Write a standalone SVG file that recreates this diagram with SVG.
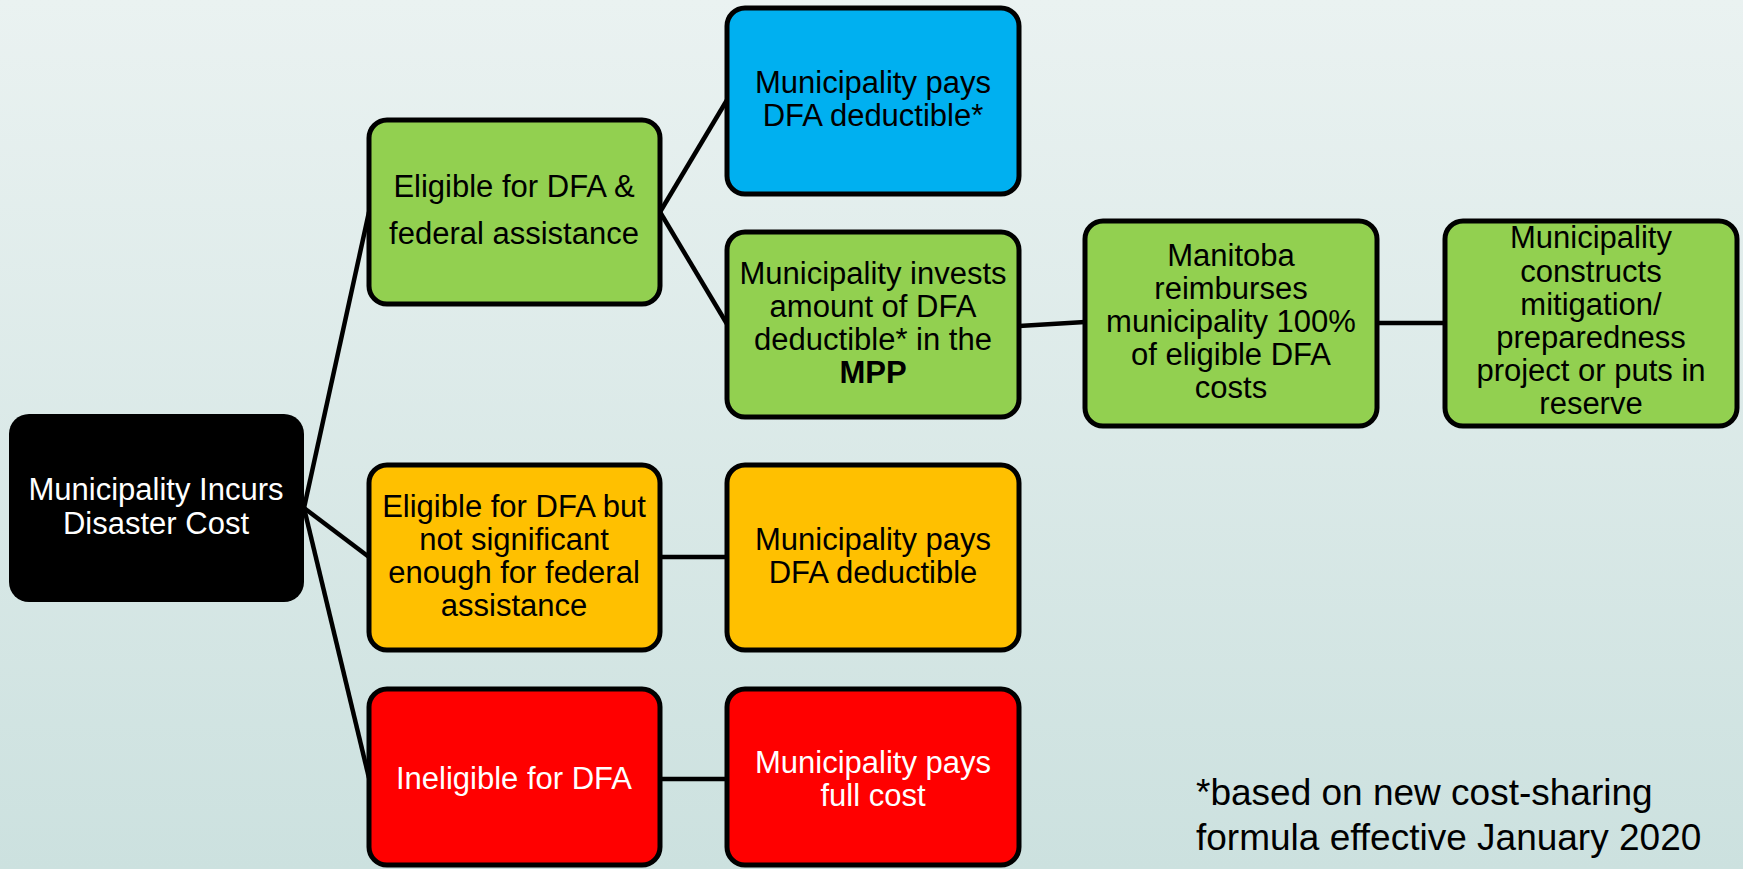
<svg xmlns="http://www.w3.org/2000/svg" width="1743" height="869" viewBox="0 0 1743 869">
  <defs>
    <linearGradient id="bg" x1="0" y1="0" x2="0" y2="1">
      <stop offset="0" stop-color="#EAF2F1"/>
      <stop offset="1" stop-color="#CCE1DF"/>
    </linearGradient>
  </defs>
  <style>
    .box { stroke: #000; stroke-width: 5; }
    .green { fill: #92D050; }
    .blue { fill: #00B0F0; }
    .orange { fill: #FFC000; }
    .red { fill: #FF0000; }
    .black { fill: #000; }
    .lbl { font-family: "Liberation Sans", Arial, sans-serif; font-size: 31px; text-anchor: middle; fill: #000; }
    .white { fill: #FFF; }
    .note { font-family: "Liberation Sans", Arial, sans-serif; font-size: 37px; fill: #000; }
    .link { stroke: #000; stroke-width: 4.5; fill: none; }
  </style>

  <rect width="1743" height="869" fill="url(#bg)"/>

  <!-- connectors -->
  <g id="connectors">
    <line class="link" x1="304" y1="508" x2="369" y2="212"/>
    <line class="link" x1="304" y1="508" x2="369" y2="557"/>
    <line class="link" x1="304" y1="508" x2="369" y2="778"/>
    <line class="link" x1="660" y1="212" x2="727" y2="100"/>
    <line class="link" x1="660" y1="212" x2="727" y2="324"/>
    <line class="link" x1="1019" y1="326" x2="1085" y2="322"/>
    <line class="link" x1="1377" y1="323" x2="1445" y2="323"/>
    <line class="link" x1="660" y1="557" x2="727" y2="557"/>
    <line class="link" x1="660" y1="779" x2="727" y2="779"/>
  </g>

  <!-- root -->
  <g id="node-root">
    <rect class="black" x="9" y="414" width="295" height="188" rx="20"/>
    <text class="lbl white" x="156" y="500">Municipality Incurs</text>
    <text class="lbl white" x="156" y="534">Disaster Cost</text>
  </g>

  <!-- eligible for DFA and federal assistance -->
  <g id="node-eligible-federal">
    <rect class="box green" x="369" y="120" width="291" height="184" rx="18"/>
    <text class="lbl" x="514" y="197">Eligible for DFA &amp;</text>
    <text class="lbl" x="514" y="244">federal assistance</text>
  </g>

  <g id="node-pays-deductible-star">
    <rect class="box blue" x="727" y="8" width="292" height="186" rx="18"/>
    <text class="lbl" x="873" y="93">Municipality pays</text>
    <text class="lbl" x="873" y="126">DFA deductible*</text>
  </g>

  <g id="node-invests-mpp">
    <rect class="box green" x="727" y="232" width="292" height="185" rx="18"/>
    <text class="lbl" x="873" y="284">Municipality invests</text>
    <text class="lbl" x="873" y="317">amount of DFA</text>
    <text class="lbl" x="873" y="350">deductible* in the</text>
    <text class="lbl" x="873" y="383" font-weight="bold">MPP</text>
  </g>

  <g id="node-manitoba-reimburses">
    <rect class="box green" x="1085" y="221" width="292" height="205" rx="18"/>
    <text class="lbl" x="1231" y="266">Manitoba</text>
    <text class="lbl" x="1231" y="299">reimburses</text>
    <text class="lbl" x="1231" y="332">municipality 100%</text>
    <text class="lbl" x="1231" y="365">of eligible DFA</text>
    <text class="lbl" x="1231" y="398">costs</text>
  </g>

  <g id="node-constructs">
    <rect class="box green" x="1445" y="221" width="292" height="205" rx="18"/>
    <text class="lbl" x="1591" y="248">Municipality</text>
    <text class="lbl" x="1591" y="282">constructs</text>
    <text class="lbl" x="1591" y="315">mitigation/</text>
    <text class="lbl" x="1591" y="348">preparedness</text>
    <text class="lbl" x="1591" y="381">project or puts in</text>
    <text class="lbl" x="1591" y="414">reserve</text>
  </g>

  <!-- eligible, not federal -->
  <g id="node-eligible-not-federal">
    <rect class="box orange" x="369" y="465" width="291" height="185" rx="18"/>
    <text class="lbl" x="514" y="517">Eligible for DFA but</text>
    <text class="lbl" x="514" y="550">not significant</text>
    <text class="lbl" x="514" y="583">enough for federal</text>
    <text class="lbl" x="514" y="616">assistance</text>
  </g>

  <g id="node-pays-deductible">
    <rect class="box orange" x="727" y="465" width="292" height="185" rx="18"/>
    <text class="lbl" x="873" y="550">Municipality pays</text>
    <text class="lbl" x="873" y="583">DFA deductible</text>
  </g>

  <!-- ineligible -->
  <g id="node-ineligible">
    <rect class="box red" x="369" y="689" width="291" height="176" rx="18"/>
    <text class="lbl white" x="514" y="789">Ineligible for DFA</text>
  </g>

  <g id="node-pays-full">
    <rect class="box red" x="727" y="689" width="292" height="176" rx="18"/>
    <text class="lbl white" x="873" y="773">Municipality pays</text>
    <text class="lbl white" x="873" y="806">full cost</text>
  </g>

  <!-- footnote -->
  <g id="footnote">
    <text class="note" x="1196" y="805">*based on new cost-sharing</text>
    <text class="note" x="1196" y="850">formula effective January 2020</text>
  </g>
</svg>
